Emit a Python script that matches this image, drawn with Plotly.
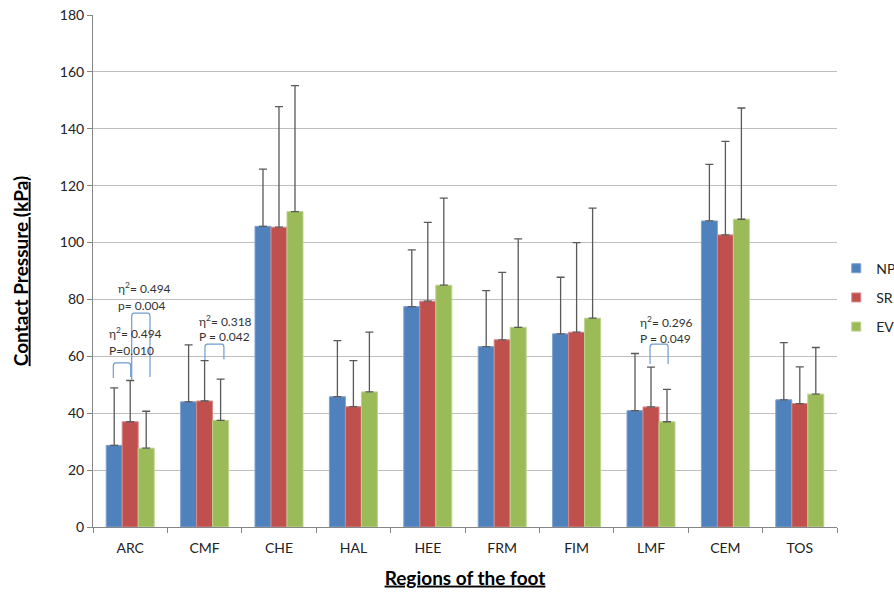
import plotly.graph_objects as go

regions = ["ARC", "CMF", "CHE", "HAL", "HEE", "FRM", "FIM", "LMF", "CEM", "TOS"]
np_mean = [28.7, 44.0, 105.7, 45.8, 77.5, 63.4, 67.9, 40.9, 107.6, 44.7]
np_sd = [20.2, 20.0, 20.1, 19.7, 19.9, 19.7, 19.9, 20.1, 19.9, 20.1]
sr_mean = [37.0, 44.3, 105.4, 42.3, 79.4, 65.8, 68.5, 42.2, 102.7, 43.4]
sr_sd = [14.5, 14.2, 42.4, 16.2, 27.7, 23.7, 31.5, 14.0, 32.9, 12.9]
ev_mean = [27.7, 37.5, 110.9, 47.5, 85.0, 70.2, 73.4, 37.0, 108.2, 46.7]
ev_sd = [13.0, 14.5, 44.3, 21.0, 30.6, 31.1, 38.7, 11.4, 39.1, 16.4]

series = [
    ("NP", np_mean, np_sd, "#4F81BD", "#7DA2D0"),
    ("SR", sr_mean, sr_sd, "#C0504D", "#D98886"),
    ("EV", ev_mean, ev_sd, "#9BBB59", "#BCD38E"),
]

# annotation texts: (x index position, y value, text)
ann_texts = [
    (-0.19, 84.0, "η<sup>2</sup>= 0.494"),
    (-0.19, 78.0, "p= 0.004"),
    (-0.31, 68.2, "η<sup>2</sup>= 0.494"),
    (-0.31, 62.2, "P=0.010"),
    (0.90, 72.4, "η<sup>2</sup>= 0.318"),
    (0.90, 66.8, "P = 0.042"),
    (6.83, 72.1, "η<sup>2</sup>= 0.296"),
    (6.83, 66.4, "P = 0.049"),
]
# brackets: (x left, x right, y left bottom, y right bottom, y top)
brackets = [
    (-0.227, 0.007, 52.4, 52.7, 57.7),
    (0.02, 0.266, 51.8, 52.7, 75.2),
    (1.005, 1.26, 58.7, 59.0, 64.3),
    (6.987, 7.23, 57.3, 57.3, 64.3),
]

fig = go.Figure()
for i, (name, m, sd, col, edge) in enumerate(series):
    fig.add_trace(go.Bar(
        name=name, x=regions, y=m,
        marker=dict(color=col, line=dict(color=edge, width=1)),
        error_y=dict(type="data", symmetric=False, array=sd,
                     arrayminus=[0] * len(sd), color="#595959",
                     thickness=1.3, width=4),
        legendgroup=name, showlegend=False,
    ))
# legend entries with smaller square keys
for name, m, sd, col, edge in series:
    fig.add_trace(go.Scatter(
        name=name, x=[None], y=[None], mode="markers",
        marker=dict(symbol="square", size=9, color=col,
                    line=dict(color=edge, width=1)),
        legendgroup=name, showlegend=True,
    ))

shapes = []
for (xl, xr, yl, yr, yt) in brackets:
    r = 0.03
    ry = 1.2
    path = (f"M {xl},{yl} L {xl},{yt - ry} Q {xl},{yt} {xl + r},{yt} "
            f"L {xr - r},{yt} Q {xr},{yt} {xr},{yt - ry} L {xr},{yr}")
    shapes.append(dict(type="path", path=path, xref="x", yref="y",
                       line=dict(color="#6F9BD1", width=1.2)))

annotations = []
for (x, y, t) in ann_texts:
    annotations.append(dict(x=x, y=y, xref="x", yref="y", text=t,
                            showarrow=False, xanchor="left", yanchor="middle",
                            font=dict(size=12, color="#333333",
                                      family="Lato")))

fig.update_layout(
    width=894, height=592, autosize=False,
    margin=dict(l=93, r=57, t=15, b=65, autoexpand=False),
    paper_bgcolor="white", plot_bgcolor="white",
    font=dict(family="Lato", size=14, color="#222222"),
    barmode="group", bargap=0.355, bargroupgap=0,
    showlegend=True,
    legend=dict(x=0.999, y=0.448, xanchor="left", yanchor="middle",
                font=dict(size=14, color="#222222"), tracegroupgap=8,
                itemwidth=30, bgcolor="rgba(0,0,0,0)"),
    shapes=shapes,
    annotations=annotations,
)
fig.update_xaxes(
    type="category", showgrid=False, showline=True, linecolor="#868686",
    linewidth=1, ticks="outside", tickson="boundaries", ticklen=5,
    tickcolor="#868686", tickfont=dict(size=14, color="#222222"),
    automargin=False, ticklabelstandoff=8,
    title=dict(text="<b><u>Regions of the foot</u></b>",
               font=dict(size=19, color="#000000"), standoff=16),
)
fig.update_yaxes(
    range=[0, 180], dtick=20, showgrid=True, gridcolor="#BFBFBF",
    gridwidth=1, showline=True, linecolor="#868686", linewidth=1,
    ticks="outside", ticklen=5, tickcolor="#868686",
    tickfont=dict(size=14, color="#222222"), zeroline=False,
    automargin=False,
    title=dict(text="<b><u>Contact Pressure (kPa)</u></b>",
               font=dict(size=19, color="#000000"), standoff=26),
)

fig.write_html("out.html", config={"displayModeBar": False},
               post_script="document.body.style.margin='0';")
